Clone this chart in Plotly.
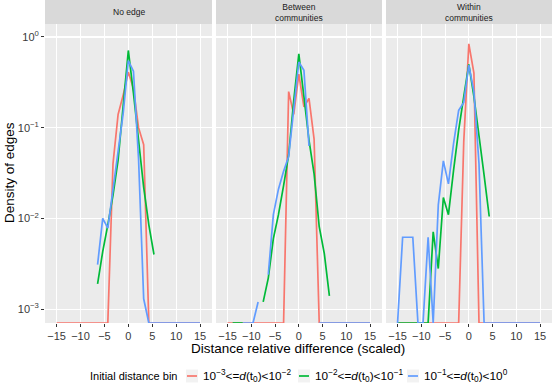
import plotly.graph_objects as go

W, H = 553, 383

# ---------------- data ----------------
x_vals = [-15, -13.93, -12.86, -11.79, -10.71, -9.64, -8.57, -7.5, -6.43, -5.36,
          -4.29, -3.21, -2.14, -1.07, 0, 1.07, 2.14, 3.21, 4.29, 5.36,
          6.43, 7.5, 8.57, 9.64, 10.71, 11.79, 12.86, 13.93, 15]

panel_titles = ["No edge", "Between<br>communities", "Within<br>communities"]

series_names = [
    "10<sup>−3</sup>&lt;=<i>d</i>(t<sub>0</sub>)&lt;10<sup>−2</sup>",
    "10<sup>−2</sup>&lt;=<i>d</i>(t<sub>0</sub>)&lt;10<sup>−1</sup>",
    "10<sup>−1</sup>&lt;=<i>d</i>(t<sub>0</sub>)&lt;10<sup>0</sup>",
]
series_colors = ["#F8766D", "#00BA38", "#619CFF"]

N = None
# panel 1: No edge
red_no_edge = [0, 0, 0, 0, 0, 0, 0, 0, 0, 0, 0, 0.04, 0.14, 0.23, 0.41, 0.27, 0.10, 0.065,
               0, 0, 0, 0, 0, 0, 0, 0, 0, 0, 0]
green_no_edge = [N, N, N, N, N, N, N, N, 0.0019, 0.0043, 0.0085, 0.018, 0.044, 0.17, 0.71,
                 0.24, 0.075, 0.022, 0.0085, 0.004, N, N, N, N, N, N, N, N, N]
blue_no_edge = [N, N, N, N, N, N, N, N, 0.0031, 0.010, 0.0078, 0.020, 0.057, 0.145, 0.55,
                0.42, 0.045, 0.0013, 0, 0, 0, 0, 0, 0, 0, 0, 0, 0, 0]

# panel 2: Between communities
red_between = [0, 0, 0, 0, 0, 0, 0, 0, 0, 0, 0, 0, 0.25, 0.14, 0.39, 0.17, 0.21, 0.075,
               0, 0, 0, 0, 0, 0, 0, 0, 0, 0, 0]
green_between = [N, 0, 0, 0, N, N, N, 0.0012, 0.0022, 0.006, 0.011, 0.023, 0.05, 0.2, 0.65,
                 0.22, 0.073, 0.031, 0.0081, 0.0041, 0.0014, N, N, N, N, N, N, N, N]
blue_between = [N, N, N, 0, 0, 0, 0.0012, N, 0.0024, 0.011, 0.021, 0.033, 0.048, 0.16, 0.53,
                0.43, 0.063, N, 0, 0, 0, 0, 0, 0, 0, 0, 0, 0, 0]

# panel 3: Within communities
red_within = [0, 0, 0, 0, 0, 0, 0, 0, 0, 0, 0, 0, 0, 0.07, 0.84, 0.40, 0,
              0, 0, 0, 0, 0, 0, 0, 0, 0, 0, 0, 0]
green_within = [0, 0, 0, 0, 0, 0, 0, 0.0071, 0.0028, 0.017, 0.011, 0.034, 0.094, 0.22, 0.50,
                0.22, 0.085, 0.03, 0.0105, N, N, N, N, N, N, N, N, N, N]
blue_within = [0, 0.0062, 0.0062, 0.0062, 0, 0, 0.0062, 0, 0.014, 0.043, 0.024, 0.067, 0.155,
               0.19, 0.49, 0.25, 0.04, 0, 0, 0, 0, 0, 0, 0, 0, 0, 0, 0, 0]

panel_series = [
    [red_no_edge, green_no_edge, blue_no_edge],
    [red_between, green_between, blue_between],
    [red_within, green_within, blue_within],
]

y_tickvals = [0.001, 0.01, 0.1, 1]
y_ticktext = ["10<sup>−3</sup>", "10<sup>−2</sup>", "10<sup>−1</sup>", "10<sup>0</sup>"]
x_tickvals = [-15, -10, -5, 0, 5, 10, 15]
x_ticktext = ["−15", "−10", "−5", "0", "5", "10", "15"]

legend_title = "Initial distance bin"
x_title = "Distance relative difference (scaled)"
y_title = "Density of edges"

# ---------------- layout geometry ----------------
Y_LOG_RANGE = [-3.153, 0.143]
FLOOR = 10 ** Y_LOG_RANGE[0]   # zero densities (-Inf on log scale) drawn at panel edge
X_RANGE = [-17.43, 17.5]

def px(x):
    return x / W

def py(y):
    return 1 - y / H

panel_px = [(45, 212), (216, 382), (386, 552)]
panel_top, panel_bottom = 24, 323
y_domain = [py(panel_bottom), py(panel_top)]

font_family = "Liberation Sans, Arial, sans-serif"

fig = go.Figure()

for p, series in enumerate(panel_series):
    ax = "" if p == 0 else str(p + 1)
    for s, vals in enumerate(series):
        yv = [None if v is None else (FLOOR if v == 0 else v) for v in vals]
        fig.add_trace(go.Scatter(
            x=x_vals, y=yv, mode="lines", name=series_names[s],
            line=dict(color=series_colors[s], width=1.7),
            connectgaps=False, showlegend=False,
            xaxis="x" + ax, yaxis="y" + ax, hoverinfo="skip",
        ))

layout = dict(
    width=W, height=H,
    margin=dict(l=0, r=0, t=0, b=0),
    paper_bgcolor="white", plot_bgcolor="#EBEBEB",
    font=dict(family=font_family, color="#1A1A1A"),
    showlegend=False,
)

for p in range(3):
    ax = "" if p == 0 else str(p + 1)
    x0, x1 = panel_px[p]
    layout["xaxis" + ax] = dict(
        domain=[px(x0), px(x1)], range=X_RANGE, anchor="y" + ax,
        tickvals=x_tickvals, ticktext=x_ticktext,
        showgrid=True, gridcolor="white", gridwidth=1.1, zeroline=False,
        ticks="outside", ticklen=3, tickcolor="#333333", tickwidth=1,
        tickfont=dict(size=11, color="#3A3A3A", family=font_family),
        showline=False,
    )
    layout["yaxis" + ax] = dict(
        domain=y_domain, type="log", range=Y_LOG_RANGE, anchor="x" + ax,
        tickvals=y_tickvals, ticktext=y_ticktext,
        showgrid=True, gridcolor="white", gridwidth=1.1, zeroline=False,
        ticks="outside" if p == 0 else "", ticklen=3, tickcolor="#333333", tickwidth=1,
        showticklabels=(p == 0),
        tickfont=dict(size=11, color="#3A3A3A", family=font_family),
        showline=False,
    )

shapes = []
annotations = []
for p in range(3):
    x0, x1 = panel_px[p]
    shapes.append(dict(type="rect", xref="paper", yref="paper",
                       x0=px(x0), x1=px(x1), y0=py(panel_top), y1=py(0),
                       fillcolor="#D9D9D9", line=dict(width=0), layer="below"))
    annotations.append(dict(xref="paper", yref="paper", x=px((x0 + x1) / 2), y=py(12),
                            text=panel_titles[p], showarrow=False,
                            font=dict(size=8.5, color="#1A1A1A", family=font_family),
                            xanchor="center", yanchor="middle"))

# axis titles
annotations.append(dict(xref="paper", yref="paper", x=px(298), y=py(348), text=x_title,
                        showarrow=False, font=dict(size=13.5, color="black", family=font_family),
                        xanchor="center", yanchor="middle"))
annotations.append(dict(xref="paper", yref="paper", x=px(10), y=py(173), text=y_title,
                        textangle=-90, showarrow=False,
                        font=dict(size=13.5, color="black", family=font_family),
                        xanchor="center", yanchor="middle"))

# legend (drawn manually: title, keys, labels)
leg_y = 376
annotations.append(dict(xref="paper", yref="paper", x=px(88), y=py(leg_y), text=legend_title,
                        showarrow=False, font=dict(size=11, color="black", family=font_family),
                        xanchor="left", yanchor="middle"))
key_x = [186, 298, 407]
for s in range(3):
    kx = key_x[s]
    shapes.append(dict(type="rect", xref="paper", yref="paper",
                       x0=px(kx), x1=px(kx + 12), y0=py(leg_y + 6.5), y1=py(leg_y - 6.5),
                       fillcolor="#F2F2F2", line=dict(width=0)))
    shapes.append(dict(type="line", xref="paper", yref="paper",
                       x0=px(kx + 1), x1=px(kx + 11), y0=py(leg_y), y1=py(leg_y),
                       line=dict(color=series_colors[s], width=1.7)))
    annotations.append(dict(xref="paper", yref="paper", x=px(kx + 15), y=py(leg_y),
                            text=series_names[s], showarrow=False,
                            font=dict(size=11.8, color="black", family=font_family),
                            xanchor="left", yanchor="middle"))

layout["shapes"] = shapes
layout["annotations"] = annotations
fig.update_layout(**layout)

fig.write_html(
    "out.html",
    config={"displayModeBar": False, "staticPlot": True},
    post_script="document.body.style.margin='0';document.body.style.padding='0';",
)
